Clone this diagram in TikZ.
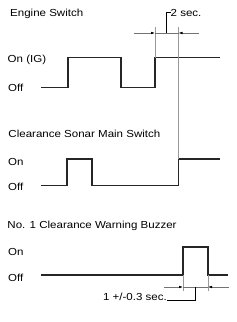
\documentclass[tikz,border=0pt]{standalone}
\usepackage{fontspec}
\setmainfont[FakeStretch=1.13]{Liberation Sans}
\usetikzlibrary{calc,arrows.meta}
\usetikzlibrary{positioning}

\begin{document}
\begin{tikzpicture}[x=1pt, y=-1pt, lbl/.style={inner sep=0pt, anchor=base west, font=\fontsize{10.2}{12}\selectfont
}, sig/.style={line width=1.2pt, black!85}, guide/.style={line width=0.6pt, black!40
}, dimto/.style={-{Latex[length=4pt,width=2.6pt,color=black]}, line width=0.6pt, black!55}]
\useasboundingbox (0,0) rectangle (237,322);

% engine switch
\node[lbl] (engT) at (10,16.8){Engine Switch};
\node[lbl] (engOn) at (7.5,62.8){On (IG)};
\node[lbl] (engOff) at (8,91.2){Off};
\draw[sig] (41,87.3) -| (68,57.5) -| (121,87.3) -| (155,57.5) -- (220,57.5);

% clearance sonar main switch
\node[lbl] (sonT) at (8.3,137.2){Clearance Sonar Main Switch};
\node[lbl] (sonOn) at (8,165.5){On};
\node[lbl] (sonOff) at (8,190.2){Off};
\draw[sig] (41,185.2) -| (67,159) -| (92,185.2) -| (178.5,159) -- (220,159);

% no. 1 clearance warning buzzer
\node[lbl] (buzT) at (7.3,228){No. 1 Clearance Warning Buzzer};
\node[lbl] (buzOn) at (8,255.6){On};
\node[lbl] (buzOff) at (8,281.6){Off};
\draw[sig] (41,275) -| (183,247) -| (208,275) -- (228,275);

% guides
\coordinate (g1t) at (155,27); \coordinate (g1b) at (155,57.5);
\coordinate (g2t) at (178.5,27); \coordinate (g2b) at (178.5,159);
\coordinate (g3t) at (183,275); \coordinate (g3b) at (183,291);
\coordinate (g4t) at (208,275); \coordinate (g4b) at (208,291);
\foreach \i/\j in {g1t/g1b,g2t/g2b,g3t/g3b,g4t/g4b}{\draw[guide] (\i) -- (\j);}

% 2 sec.
\coordinate (d1a) at (134,33); \coordinate (d1b) at (199,33);
\coordinate (d1m) at (166.7,33);
\draw[dimto] (d1a) -- (g1t |- d1a);
\draw[dimto] (d1b) -- (g2t |- d1b);
\draw[guide, black!55] (g1t |- d1a) -- (g2t |- d1b);
\node[lbl] (twoSec) at (170.5,16.8){2 sec.};
\draw[line width=0.6pt] (d1m) |- (twoSec.west |- 0,12.3) -- ++(0,0);

% 1 +/-0.3 sec.
\coordinate (d2a) at (164,287); \coordinate (d2b) at (229,287);
\coordinate (d2m) at (195,287);
\draw[dimto] (d2a) -- (g3t |- d2a);
\draw[dimto] (d2b) -- (g4t |- d2b);
\draw[guide, black!55] (g3t |- d2a) -- (g4t |- d2b);
\node[lbl, anchor=base east] (oneSec) at (167,300){1 +/-0.3 sec.};
\draw[line width=0.6pt] (d2m) |- (oneSec.base east);
\end{tikzpicture}
\end{document}
